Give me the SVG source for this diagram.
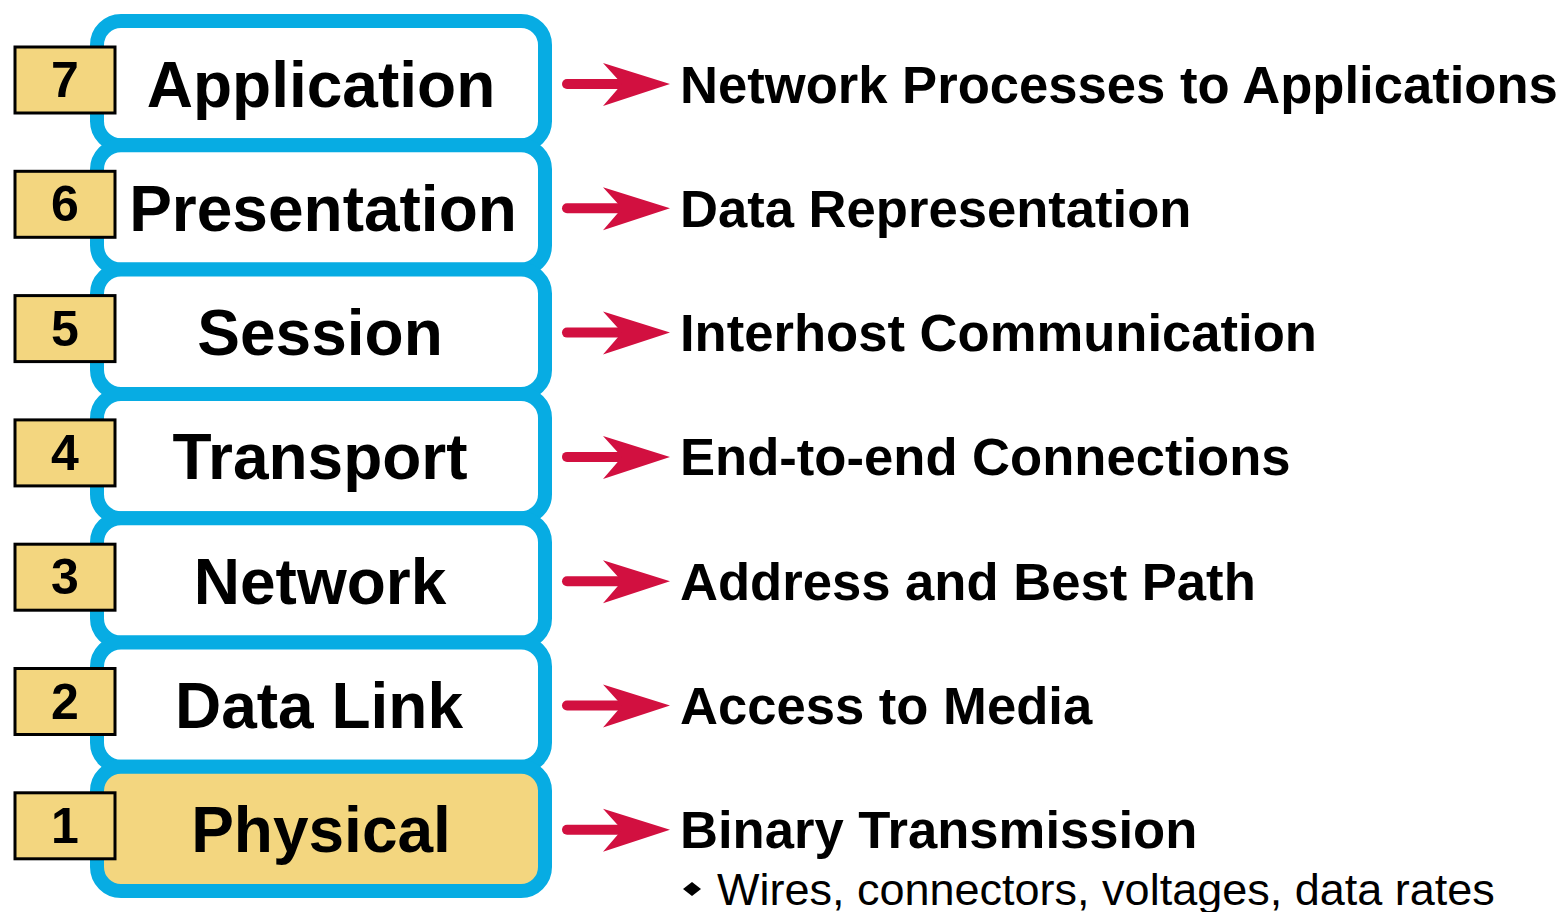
<svg xmlns="http://www.w3.org/2000/svg" width="1565" height="912" viewBox="0 0 1565 912">
<defs>
<style>
.layer{fill:#fff;stroke:#07ACE3;stroke-width:14}
.layer.hl{fill:#F3D67F}
.num{fill:#F3D67F;stroke:#000;stroke-width:3}
.numt{font-family:"Liberation Sans",Arial,sans-serif;font-weight:bold;font-size:50px;fill:#000;text-anchor:middle}
.name{font-family:"Liberation Sans",Arial,sans-serif;font-weight:bold;font-size:64px;fill:#000;text-anchor:middle}
.desc{font-family:"Liberation Sans",Arial,sans-serif;font-weight:bold;font-size:52.6px;fill:#000}
.sub{font-family:"Liberation Sans",Arial,sans-serif;font-size:45px;fill:#000}
.shaft{stroke:#D21040;stroke-width:10;stroke-linecap:round;fill:none}
.head{fill:#D21040}
</style>
<g id="arrow">
<line class="shaft" x1="567" y1="84" x2="622" y2="84"/>
<polygon class="head" points="603,63 670,84 603,106 622,84"/>
</g>
</defs>
<rect width="1565" height="912" fill="#fff"/>
<g id="layer7" transform="translate(0,0)">
<rect class="layer" x="97" y="21" width="448" height="124.3" rx="24"/>
<text class="name" x="321" y="106.5">Application</text>
<rect class="num" x="15" y="47" width="100" height="66"/>
<text class="numt" x="65" y="97">7</text>
</g>
<g id="layer6" transform="translate(0,124.3)">
<rect class="layer" x="97" y="21" width="448" height="124.3" rx="24"/>
<text class="name" x="323" y="106.5">Presentation</text>
<rect class="num" x="15" y="47" width="100" height="66"/>
<text class="numt" x="65" y="97">6</text>
</g>
<g id="layer5" transform="translate(0,248.6)">
<rect class="layer" x="97" y="21" width="448" height="124.3" rx="24"/>
<text class="name" x="320" y="106.5">Session</text>
<rect class="num" x="15" y="47" width="100" height="66"/>
<text class="numt" x="65" y="97">5</text>
</g>
<g id="layer4" transform="translate(0,372.9)">
<rect class="layer" x="97" y="21" width="448" height="124.3" rx="24"/>
<text class="name" x="320" y="106.5">Transport</text>
<rect class="num" x="15" y="47" width="100" height="66"/>
<text class="numt" x="65" y="97">4</text>
</g>
<g id="layer3" transform="translate(0,497.2)">
<rect class="layer" x="97" y="21" width="448" height="124.3" rx="24"/>
<text class="name" x="320" y="106.5">Network</text>
<rect class="num" x="15" y="47" width="100" height="66"/>
<text class="numt" x="65" y="97">3</text>
</g>
<g id="layer2" transform="translate(0,621.5)">
<rect class="layer" x="97" y="21" width="448" height="124.3" rx="24"/>
<text class="name" x="319" y="106.5">Data Link</text>
<rect class="num" x="15" y="47" width="100" height="66"/>
<text class="numt" x="65" y="97">2</text>
</g>
<g id="layer1" transform="translate(0,745.8)">
<rect class="layer hl" x="97" y="21" width="448" height="124.3" rx="24"/>
<text class="name" x="321" y="106.5">Physical</text>
<rect class="num" x="15" y="47" width="100" height="66"/>
<text class="numt" x="65" y="97">1</text>
</g>
<g id="connectors">
<use href="#arrow"/>
<use href="#arrow" y="124.3"/>
<use href="#arrow" y="248.6"/>
<use href="#arrow" y="372.9"/>
<use href="#arrow" y="497.2"/>
<use href="#arrow" y="621.5"/>
<use href="#arrow" y="745.8"/>
</g>
<g id="descriptions">
<text class="desc" x="680" y="102.5">Network Processes to Applications</text>
<text class="desc" x="680" y="226.8">Data Representation</text>
<text class="desc" x="680" y="351.1">Interhost Communication</text>
<text class="desc" x="680" y="475.4">End-to-end Connections</text>
<text class="desc" x="680" y="599.7">Address and Best Path</text>
<text class="desc" x="680" y="724">Access to Media</text>
<text class="desc" x="680" y="848.3">Binary Transmission</text>
<polygon points="692,882 701,889 692,896 683,889" fill="#000"/>
<text class="sub" x="717" y="905">Wires, connectors, voltages, data rates</text>
</g>
</svg>
